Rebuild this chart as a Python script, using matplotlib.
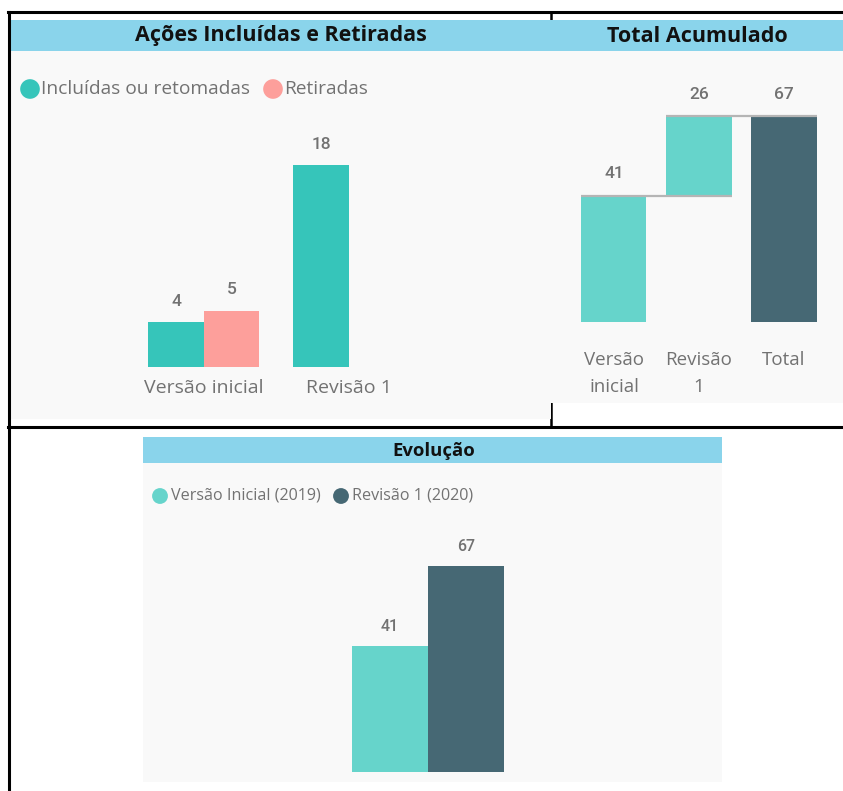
import numpy as np
import matplotlib.pyplot as plt
from matplotlib.patches import Rectangle

plt.rcParams['font.family'] = ['Open Sans', 'DejaVu Sans']

# data
acoes_cats = ["Versão inicial", "Revisão 1"]
acoes_series = ["Incluídas ou retomadas", "Retiradas"]
incluidas = [4, 18]
retiradas = [5, None]

wf_cats = ["Versão\ninicial", "Revisão\n1", "Total"]
wf_steps = [41, 26]

evol_series = ["Versão Inicial (2019)", "Revisão 1 (2020)"]
evol_values = [41, 67]

# colours
header_col = "#8AD4EB"
panel_col = "#F9F9F9"
teal = "#36C5BA"
pink = "#FD9F9B"
teal_light = "#66D4CB"
dark = "#466874"
txt_col = "#727272"
line_col = "#B5B5B5"

W, H = 843, 791
fig = plt.figure(figsize=(W / 100, H / 100), dpi=100)


def box(x0, y0, x1, y1):
    return [x0 / W, 1 - y1 / H, (x1 - x0) / W, (y1 - y0) / H]


# background layer in pixel coords
bg = fig.add_axes([0, 0, 1, 1])
bg.set_xlim(0, W)
bg.set_ylim(H, 0)
bg.axis("off")

# frame lines
bg.plot([8, W], [12, 12], color="black", lw=2.2, zorder=1)
bg.plot([551, 551], [12, 427], color="black", lw=1.8, zorder=1)
bg.plot([8, W], [427, 427], color="black", lw=2.2, zorder=1)

# panels
bg.add_patch(Rectangle((10, 51), 541, 368, color=panel_col, zorder=2, lw=0))
bg.add_patch(Rectangle((10, 20), 541, 31, color=header_col, zorder=2, lw=0))
bg.add_patch(Rectangle((551, 51), 292, 352, color=panel_col, zorder=2, lw=0))
bg.add_patch(Rectangle((551, 20), 292, 31, color=header_col, zorder=2, lw=0))
bg.add_patch(Rectangle((143, 463), 579, 319, color=panel_col, zorder=2, lw=0))
bg.add_patch(Rectangle((143, 437), 579, 26, color=header_col, zorder=2, lw=0))
bg.plot([9, 9], [12, H], color="black", lw=2.2, zorder=3)

bg.text(281, 36, "Ações Incluídas e Retiradas", ha="center", va="center",
        fontsize=15.5, fontweight="bold", color="#111111", zorder=4)
bg.text(697, 36, "Total Acumulado", ha="center", va="center",
        fontsize=15.5, fontweight="bold", color="#111111", zorder=4)
bg.text(434, 451, "Evolução", ha="center", va="center",
        fontsize=13.3, fontweight="bold", color="#111111", zorder=4)

# legends
bg.scatter([30, 273], [89, 89], s=200, color=[teal, pink], zorder=4, lw=0)
bg.text(41, 89, acoes_series[0], ha="left", va="center", fontsize=13.8,
        color=txt_col, zorder=4)
bg.text(284, 89, acoes_series[1], ha="left", va="center", fontsize=13.8,
        color=txt_col, zorder=4)
bg.scatter([160, 341], [496, 496], s=130, color=[teal_light, dark], zorder=4, lw=0)
bg.text(171, 496, evol_series[0], ha="left", va="center", fontsize=11.6,
        color=txt_col, zorder=4)
bg.text(352, 496, evol_series[1], ha="left", va="center", fontsize=11.6,
        color=txt_col, zorder=4)


def clean(ax):
    ax.patch.set_alpha(0)
    for s in ax.spines.values():
        s.set_visible(False)
    ax.set_yticks([])
    ax.tick_params(axis="x", length=0, colors=txt_col)


# left: clustered bars
ax1 = fig.add_axes(box(130, 120, 430, 366.7))
clean(ax1)
bw = 0.383
x = np.arange(len(acoes_cats))
for i in range(len(acoes_cats)):
    for j, (vals, col) in enumerate([(incluidas, teal), (retiradas, pink)]):
        v = vals[i]
        if v is None:
            continue
        xc = x[i] + (j - 0.5) * bw
        ax1.bar(xc, v, width=bw, color=col, lw=0)
        ax1.annotate(str(v), (xc, v), xytext=(0, 15), textcoords="offset points",
                     ha="center", va="center", fontsize=12.5, color=txt_col,
                     family="Roboto", fontweight="medium")
ax1.set_xlim(-0.51, 1.559)
ax1.set_ylim(0, 22.03)
ax1.set_xticks(x)
ax1.set_xticklabels(acoes_cats, fontsize=14)
ax1.tick_params(axis="x", pad=9)

# right: waterfall
ax2 = fig.add_axes(box(560, 60, 843, 321.7))
clean(ax2)
ww = 0.765
total = sum(wf_steps)
bottoms = [0, wf_steps[0], 0]
heights = [wf_steps[0], wf_steps[1], total]
cols = [teal_light, teal_light, dark]
xw = np.arange(len(wf_cats))
ax2.bar(xw, heights, bottom=bottoms, width=ww, color=cols, lw=0, zorder=2)
ax2.hlines(wf_steps[0], xw[0] - ww / 2, xw[1] + ww / 2, color=line_col, lw=1.6, zorder=3)
ax2.hlines(total, xw[1] - ww / 2, xw[2] + ww / 2, color=line_col, lw=1.6, zorder=3)
for xi, b, h in zip(xw, bottoms, heights):
    ax2.annotate(str(h), (xi, b + h), xytext=(0, 16), textcoords="offset points",
                 ha="center", va="center", fontsize=12.5, color=txt_col,
                 family="Roboto", fontweight="medium")
ax2.set_xlim(-0.635, 2.694)
ax2.set_ylim(0, 85.4)
ax2.set_xticks(xw)
ax2.set_xticklabels(wf_cats, fontsize=13.5, linespacing=1.68)
ax2.tick_params(axis="x", pad=21)

# bottom: evolution
ax3 = fig.add_axes(box(143, 480, 722, 771.7))
clean(ax3)
eb = 0.76
for j, (v, col) in enumerate(zip(evol_values, [teal_light, dark])):
    xc = (j - 0.5) * eb
    ax3.bar(xc, v, width=eb, color=col, lw=0)
    ax3.annotate(str(v), (xc, v), xytext=(0, 14), textcoords="offset points",
                 ha="center", va="center", fontsize=11.5, color=txt_col,
                 family="Roboto", fontweight="medium")
ax3.set_xlim(-2.85, 2.94)
ax3.set_ylim(0, 95.0)
ax3.set_xticks([])

plt.savefig("out.png", dpi=100)
